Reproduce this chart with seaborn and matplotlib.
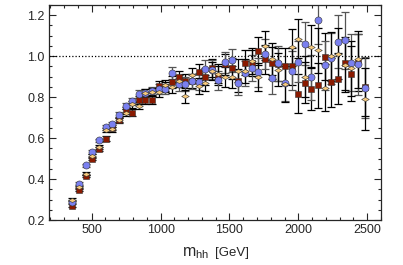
import numpy as np
import pandas as pd
import seaborn as sns
import matplotlib.pyplot as plt
from matplotlib.ticker import MultipleLocator

# bin centres (GeV)
mhh = [360, 408, 456, 505, 553, 601, 649, 697, 746, 794, 842, 890, 938, 987, 1035,
       1083, 1131, 1179, 1228, 1276, 1324, 1372, 1420, 1469, 1517, 1565, 1613, 1661,
       1710, 1758, 1806, 1854, 1902, 1951, 1999, 2047, 2095, 2143, 2192, 2240, 2288,
       2336, 2384, 2433, 2481]

blue = [0.29, 0.378, 0.467, 0.532, 0.589, 0.652, 0.667, 0.712, 0.756, 0.78, 0.815, 0.82,
        0.83, 0.84, 0.84, 0.919, 0.862, 0.865, 0.878, 0.876, 0.938, 0.935, 0.882, 0.97,
        0.979, 0.87, 0.916, 0.943, 0.922, 1.011, 0.894, 0.965, 0.87, 0.93, 0.974, 1.062,
        0.898, 1.179, 0.956, 0.99, 1.07, 1.077, 0.968, 0.96, 0.846]
red = [0.27, 0.346, 0.415, 0.50, 0.548, 0.598, 0.65, 0.69, 0.735, 0.724, 0.785, 0.785,
       0.787, 0.856, 0.85, 0.875, 0.90, 0.88, 0.878, 0.922, 0.90, 0.943, 0.905, 0.96,
       0.94, 0.88, 0.968, 0.965, 1.024, 0.984, 0.968, 0.96, 0.951, 0.95, 0.817, 0.87,
       0.84, 0.857, 0.997, 0.873, 0.89, 0.965, 0.914, 0.97, 0.85]
orange = [0.30, 0.36, 0.426, 0.512, 0.558, 0.64, 0.643, 0.686, 0.725, 0.765, 0.758, 0.82,
          0.825, 0.823, 0.857, 0.848, 0.88, 0.805, 0.906, 0.854, 0.87, 0.927, 0.915, 0.898,
          0.898, 0.93, 0.927, 0.976, 0.90, 1.052, 0.987, 0.935, 0.862, 1.044, 1.086, 0.90,
          1.046, 1.03, 0.845, 1.0, 1.013, 0.955, 0.94, 0.984, 0.79]

err_blue = [0.006, 0.006, 0.007, 0.008, 0.009, 0.01, 0.012, 0.014, 0.016, 0.018, 0.02, 0.02,
            0.022, 0.024, 0.026, 0.03, 0.03, 0.034, 0.036, 0.04, 0.042, 0.045, 0.048, 0.05,
            0.055, 0.058, 0.06, 0.065, 0.07, 0.075, 0.08, 0.085, 0.09, 0.095, 0.1, 0.105,
            0.11, 0.12, 0.12, 0.125, 0.13, 0.14, 0.14, 0.15, 0.15]
err_red = [0.006, 0.006, 0.007, 0.008, 0.009, 0.01, 0.012, 0.013, 0.015, 0.017, 0.019, 0.02,
           0.022, 0.024, 0.026, 0.028, 0.03, 0.033, 0.035, 0.038, 0.04, 0.043, 0.046, 0.05,
           0.052, 0.056, 0.06, 0.063, 0.068, 0.072, 0.078, 0.082, 0.088, 0.09, 0.095, 0.1,
           0.105, 0.11, 0.115, 0.12, 0.125, 0.13, 0.135, 0.14, 0.14]
err_orange = [0.006, 0.006, 0.007, 0.008, 0.009, 0.01, 0.011, 0.013, 0.015, 0.017, 0.018, 0.02,
              0.021, 0.023, 0.025, 0.028, 0.03, 0.032, 0.035, 0.038, 0.04, 0.043, 0.046, 0.05,
              0.052, 0.055, 0.06, 0.063, 0.068, 0.072, 0.078, 0.082, 0.088, 0.09, 0.095, 0.1,
              0.105, 0.11, 0.115, 0.12, 0.125, 0.13, 0.135, 0.14, 0.15]

sns.set_style("ticks");
plt.rcParams['font.family'] = ['Liberation Sans', 'DejaVu Sans'];

fig = plt.figure(figsize=(4.03, 2.65), dpi=100);
ax = fig.add_axes([0.1216, 0.1698, 0.8238, 0.8113]);

diamond = [(-1, 0), (0, 0.55), (1, 0), (0, -0.55), (-1, 0)];

series = [
    (red, err_red, "#8a1a00", "s", 19, "black"),
    (blue, err_blue, "#7a80f0", "o", 26, "#555555"),
    (orange, err_orange, "#f6c97c", diamond, 30, "black"),
];

for vals, errs, col, mk, sz, ecol in series:
    df = pd.DataFrame({"mhh": mhh, "ratio": vals, "err": errs});
    ax.errorbar(df["mhh"], df["ratio"], yerr=df["err"], fmt="none", ecolor=ecol,
                elinewidth=0.9, capsize=2.6, capthick=0.9, zorder=2);
    sns.scatterplot(data=df, x="mhh", y="ratio", marker=mk, s=sz, color=col,
                    edgecolor="#333333", linewidth=0.4, ax=ax, zorder=3);

ax.axhline(1.0, color="black", ls=(0, (1.0, 1.6)), lw=0.9, zorder=1);

ax.set_xlim(190, 2600);
ax.set_ylim(0.2, 1.25);
ax.xaxis.set_major_locator(MultipleLocator(500));
ax.xaxis.set_minor_locator(MultipleLocator(100));
ax.yaxis.set_major_locator(MultipleLocator(0.2));
ax.yaxis.set_minor_locator(MultipleLocator(0.05));
ax.set_yticks([0.2, 0.4, 0.6, 0.8, 1.0, 1.2]);
ax.set_yticklabels(["0.2", "0.4", "0.6", "0.8", "1.0", "1.2"]);
ax.tick_params(which="both", direction="in", top=True, right=True, labelsize=9, width=0.8, pad=3);
ax.tick_params(which="major", length=5);
ax.tick_params(which="minor", length=2.5);
for s in ax.spines.values():
    s.set_linewidth(0.9);

ax.set_xlabel("");
ax.set_ylabel("");
ax.text(0.402, -0.152, r"m$_{\mathregular{hh}}$", transform=ax.transAxes, fontsize=11.5, va="center", ha="left");
ax.text(0.5, -0.152, "[GeV]", transform=ax.transAxes, fontsize=9.5, va="center", ha="left");

fig.savefig("out.png", dpi=100);
